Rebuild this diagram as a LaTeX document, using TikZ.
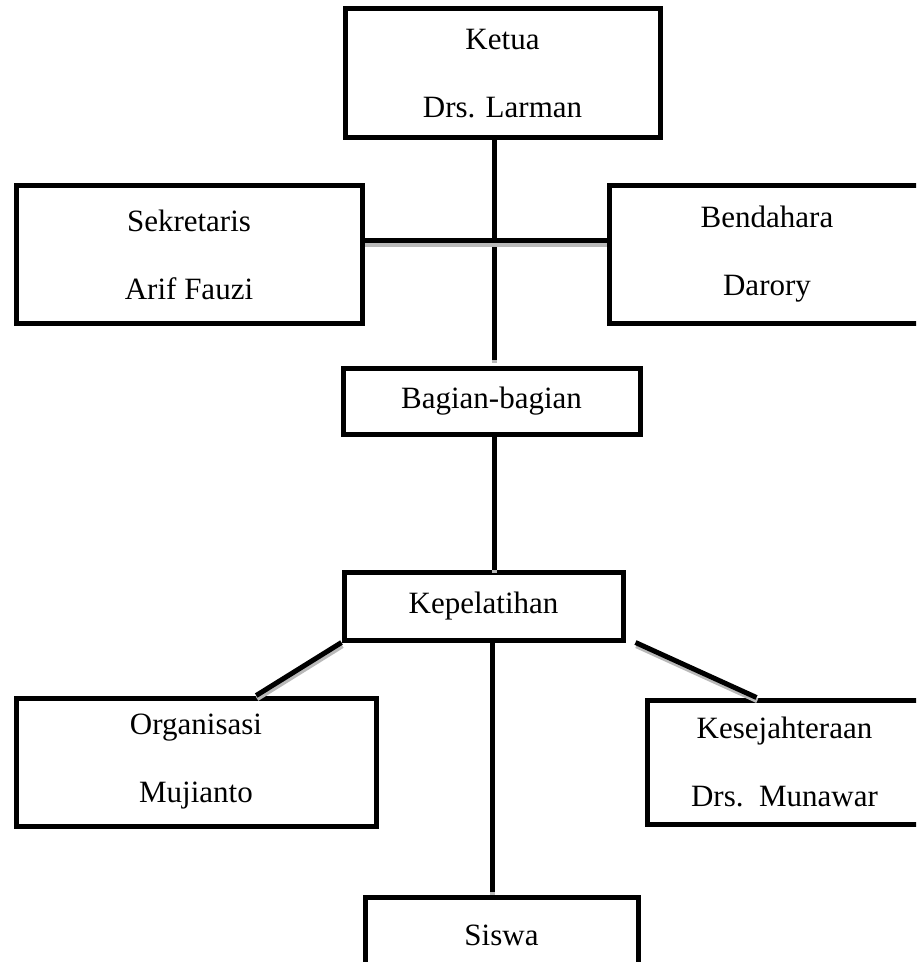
\documentclass[tikz,border=0pt]{standalone}
\usepackage{fontspec}
\setmainfont{Liberation Serif}
\usetikzlibrary{calc}

\begin{document}
\begin{tikzpicture}[x=0.5pt,y=-0.5pt]
  \tikzset{
    jabatan/.style={draw, rectangle, line width=2.5pt, align=center,
      inner sep=0pt, font=\fontsize{15.5}{34}\selectfont},
    garis/.style={line width=2.5pt,
      preaction={draw, gray!55, line width=2.5pt,
        transform canvas={xshift=0.4pt,yshift=-1.6pt}}}
  }
  % page frame, boxes on the right run off the edge
  \useasboundingbox (0,0) rectangle (916,962);
  \clip (0,0) rectangle (916,962);

  % the boxes
  \node[jabatan, minimum width=157.5pt, minimum height=64.5pt] (ketua) at (502.5,73.5) {Ketua\\Drs. Larman};
  \node[jabatan, minimum width=173pt, minimum height=68.5pt] (sekretaris) at (189,254.5) {Sekretaris\\Arif Fauzi};
  \node[jabatan, minimum width=158pt, minimum height=68.5pt] (bendahara) at (767,254.5) {Bendahara\\Darory};
  \node[jabatan, minimum width=148.5pt, minimum height=33pt] (bagian) at (491.5,401) {Bagian-bagian};
  \node[jabatan, minimum width=139.5pt, minimum height=34pt] (kepelatihan) at (483.5,606) {Kepelatihan};
  \node[jabatan, minimum width=180pt, minimum height=64pt] (organisasi) at (196,762) {Organisasi\\Mujianto};
  \node[jabatan, minimum width=137.5pt, minimum height=62pt] (kesejahteraan) at (784.5,762) {Kesejahteraan\\Drs.\ \ Munawar};
  \node[jabatan, minimum width=136.5pt, minimum height=38pt] (siswa) at (501.5,935) {Siswa};

  % x of the two trunks and y of the cross arm
  \coordinate (tulang) at (494,0);
  \coordinate (tulangb) at (492,0);
  \coordinate (lengan) at (0,241);

  \draw[garis] (ketua.south -| tulang) -- ($(bagian.north -| tulang)+(0,-6)$);
  \draw[garis] (sekretaris.east |- lengan) -- (bendahara.west |- lengan);
  \draw[garis] (bagian.south -| tulang) -- (kepelatihan.north -| tulang);
  \draw[garis] (kepelatihan.south -| tulangb) -- ($(siswa.north -| tulangb)+(0,-3)$);
  \draw[garis] (kepelatihan.south west)
    -- ($(organisasi.north west)!0.665!(organisasi.north east)$);
  \draw[garis] ($(kepelatihan.south east)+(10,0)$)
    -- ($(kesejahteraan.north west)!0.4!(kesejahteraan.north east)$);
\end{tikzpicture}
\end{document}
